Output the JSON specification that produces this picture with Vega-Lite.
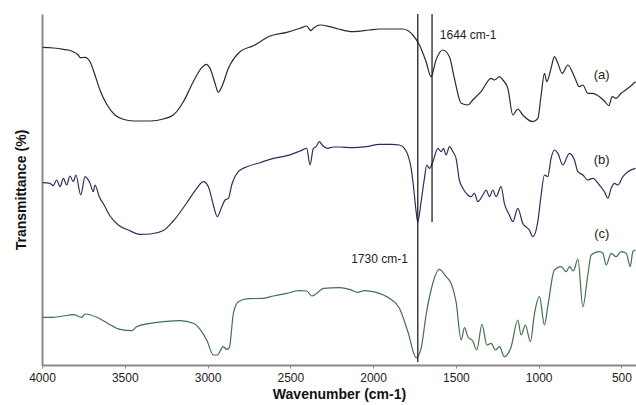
{
  "$schema": "https://vega.github.io/schema/vega-lite/v6.json",
  "width": 594,
  "height": 351,
  "autosize": "none",
  "padding": {"left": 42, "top": 14, "right": 0, "bottom": 40},
  "background": "white",
  "config": {
    "view": {"stroke": null},
    "font": "Liberation Sans"
  },
  "datasets": {
    "spectra": [
      {"wn": 3996, "t": 317.7, "s": "a"}, {"wn": 3932, "t": 317, "s": "a"}, {"wn": 3871, "t": 315.7, "s": "a"},
      {"wn": 3821, "t": 314, "s": "a"}, {"wn": 3781, "t": 310, "s": "a"}, {"wn": 3770, "t": 307.3, "s": "a"},
      {"wn": 3740, "t": 307.7, "s": "a"}, {"wn": 3710, "t": 303.3, "s": "a"}, {"wn": 3680, "t": 290, "s": "a"},
      {"wn": 3650, "t": 275, "s": "a"}, {"wn": 3609, "t": 260.7, "s": "a"}, {"wn": 3559, "t": 250, "s": "a"},
      {"wn": 3509, "t": 245.7, "s": "a"}, {"wn": 3448, "t": 244, "s": "a"}, {"wn": 3347, "t": 244, "s": "a"},
      {"wn": 3267, "t": 246, "s": "a"}, {"wn": 3207, "t": 250, "s": "a"}, {"wn": 3146, "t": 263.3, "s": "a"},
      {"wn": 3086, "t": 283.3, "s": "a"}, {"wn": 3035, "t": 297.3, "s": "a"}, {"wn": 3009, "t": 300.7, "s": "a"},
      {"wn": 2985, "t": 296.7, "s": "a"}, {"wn": 2955, "t": 281.7, "s": "a"}, {"wn": 2935, "t": 272.7, "s": "a"},
      {"wn": 2914, "t": 278.3, "s": "a"}, {"wn": 2874, "t": 296.7, "s": "a"}, {"wn": 2804, "t": 313.3, "s": "a"},
      {"wn": 2723, "t": 319.3, "s": "a"}, {"wn": 2622, "t": 329, "s": "a"}, {"wn": 2521, "t": 332.7, "s": "a"},
      {"wn": 2441, "t": 336.7, "s": "a"}, {"wn": 2401, "t": 339, "s": "a"}, {"wn": 2376, "t": 334.3, "s": "a"},
      {"wn": 2361, "t": 336.7, "s": "a"}, {"wn": 2320, "t": 340, "s": "a"}, {"wn": 2260, "t": 338.3, "s": "a"},
      {"wn": 2210, "t": 336, "s": "a"}, {"wn": 2123, "t": 333.3, "s": "a"}, {"wn": 2022, "t": 335, "s": "a"},
      {"wn": 1962, "t": 336, "s": "a"}, {"wn": 1821, "t": 336, "s": "a"}, {"wn": 1760, "t": 330, "s": "a"},
      {"wn": 1720, "t": 320, "s": "a"}, {"wn": 1680, "t": 303.3, "s": "a"}, {"wn": 1650, "t": 288.3, "s": "a"},
      {"wn": 1620, "t": 305, "s": "a"}, {"wn": 1579, "t": 315, "s": "a"}, {"wn": 1539, "t": 308.3, "s": "a"},
      {"wn": 1509, "t": 286.7, "s": "a"}, {"wn": 1468, "t": 261.7, "s": "a"}, {"wn": 1428, "t": 260, "s": "a"},
      {"wn": 1398, "t": 265, "s": "a"}, {"wn": 1348, "t": 273.3, "s": "a"}, {"wn": 1287, "t": 286.7, "s": "a"},
      {"wn": 1267, "t": 285, "s": "a"}, {"wn": 1237, "t": 288.3, "s": "a"}, {"wn": 1216, "t": 285, "s": "a"},
      {"wn": 1186, "t": 276.7, "s": "a"}, {"wn": 1156, "t": 250, "s": "a"}, {"wn": 1126, "t": 256, "s": "a"},
      {"wn": 1096, "t": 250, "s": "a"}, {"wn": 1035, "t": 243.3, "s": "a"}, {"wn": 1005, "t": 246.7, "s": "a"},
      {"wn": 985, "t": 270, "s": "a"}, {"wn": 965, "t": 291.7, "s": "a"}, {"wn": 951, "t": 283.3, "s": "a"},
      {"wn": 925, "t": 296.7, "s": "a"}, {"wn": 905, "t": 308.3, "s": "a"}, {"wn": 884, "t": 301.7, "s": "a"},
      {"wn": 858, "t": 291.7, "s": "a"}, {"wn": 824, "t": 300, "s": "a"}, {"wn": 784, "t": 288.3, "s": "a"},
      {"wn": 754, "t": 278.3, "s": "a"}, {"wn": 733, "t": 280, "s": "a"}, {"wn": 703, "t": 271.7, "s": "a"},
      {"wn": 673, "t": 271.7, "s": "a"}, {"wn": 633, "t": 268.3, "s": "a"}, {"wn": 603, "t": 264, "s": "a"},
      {"wn": 576, "t": 259.3, "s": "a"}, {"wn": 556, "t": 268.3, "s": "a"}, {"wn": 532, "t": 266.7, "s": "a"},
      {"wn": 502, "t": 271.7, "s": "a"}, {"wn": 461, "t": 276.7, "s": "a"}, {"wn": 415, "t": 283.3, "s": "a"},

      {"wn": 3996, "t": 182.3, "s": "b"}, {"wn": 3952, "t": 181.7, "s": "b"}, {"wn": 3932, "t": 179.3, "s": "b"},
      {"wn": 3911, "t": 185, "s": "b"}, {"wn": 3891, "t": 178.3, "s": "b"}, {"wn": 3871, "t": 186.7, "s": "b"},
      {"wn": 3851, "t": 180, "s": "b"}, {"wn": 3831, "t": 189, "s": "b"}, {"wn": 3811, "t": 183.3, "s": "b"},
      {"wn": 3795, "t": 190, "s": "b"}, {"wn": 3766, "t": 170, "s": "b"}, {"wn": 3740, "t": 188.3, "s": "b"},
      {"wn": 3710, "t": 181.7, "s": "b"}, {"wn": 3690, "t": 173.3, "s": "b"}, {"wn": 3680, "t": 180, "s": "b"},
      {"wn": 3654, "t": 168.3, "s": "b"}, {"wn": 3625, "t": 160, "s": "b"}, {"wn": 3589, "t": 149, "s": "b"},
      {"wn": 3539, "t": 140, "s": "b"}, {"wn": 3479, "t": 135, "s": "b"}, {"wn": 3408, "t": 130.7, "s": "b"},
      {"wn": 3347, "t": 131, "s": "b"}, {"wn": 3267, "t": 134.5, "s": "b"}, {"wn": 3207, "t": 144, "s": "b"},
      {"wn": 3126, "t": 162, "s": "b"}, {"wn": 3065, "t": 176.7, "s": "b"}, {"wn": 3025, "t": 183.3, "s": "b"},
      {"wn": 2995, "t": 178.3, "s": "b"}, {"wn": 2965, "t": 160, "s": "b"}, {"wn": 2941, "t": 148.3, "s": "b"},
      {"wn": 2914, "t": 158.3, "s": "b"}, {"wn": 2894, "t": 165, "s": "b"}, {"wn": 2874, "t": 166.7, "s": "b"},
      {"wn": 2854, "t": 180, "s": "b"}, {"wn": 2814, "t": 193.3, "s": "b"}, {"wn": 2763, "t": 198.3, "s": "b"},
      {"wn": 2683, "t": 202.3, "s": "b"}, {"wn": 2602, "t": 206.7, "s": "b"}, {"wn": 2521, "t": 209.3, "s": "b"},
      {"wn": 2441, "t": 214, "s": "b"}, {"wn": 2401, "t": 216.7, "s": "b"}, {"wn": 2381, "t": 200, "s": "b"},
      {"wn": 2361, "t": 216.7, "s": "b"}, {"wn": 2344, "t": 218.3, "s": "b"}, {"wn": 2325, "t": 223.3, "s": "b"},
      {"wn": 2304, "t": 219.3, "s": "b"}, {"wn": 2276, "t": 216.7, "s": "b"}, {"wn": 2240, "t": 218, "s": "b"},
      {"wn": 2204, "t": 218, "s": "b"}, {"wn": 2123, "t": 217.3, "s": "b"}, {"wn": 2042, "t": 218.3, "s": "b"},
      {"wn": 1962, "t": 220.7, "s": "b"}, {"wn": 1891, "t": 220.7, "s": "b"}, {"wn": 1841, "t": 220, "s": "b"},
      {"wn": 1811, "t": 216.7, "s": "b"}, {"wn": 1790, "t": 210, "s": "b"}, {"wn": 1770, "t": 196.7, "s": "b"},
      {"wn": 1757, "t": 180, "s": "b"}, {"wn": 1740, "t": 153.3, "s": "b"}, {"wn": 1730, "t": 143, "s": "b"},
      {"wn": 1710, "t": 163.3, "s": "b"}, {"wn": 1690, "t": 186.7, "s": "b"}, {"wn": 1676, "t": 200, "s": "b"},
      {"wn": 1660, "t": 196.7, "s": "b"}, {"wn": 1639, "t": 203.3, "s": "b"}, {"wn": 1609, "t": 216.7, "s": "b"},
      {"wn": 1589, "t": 213.3, "s": "b"}, {"wn": 1575, "t": 216.7, "s": "b"}, {"wn": 1559, "t": 210, "s": "b"},
      {"wn": 1539, "t": 218.3, "s": "b"}, {"wn": 1518, "t": 213.3, "s": "b"}, {"wn": 1499, "t": 206.7, "s": "b"},
      {"wn": 1479, "t": 185, "s": "b"}, {"wn": 1458, "t": 176.7, "s": "b"}, {"wn": 1428, "t": 170, "s": "b"},
      {"wn": 1408, "t": 168.3, "s": "b"}, {"wn": 1388, "t": 171.7, "s": "b"}, {"wn": 1367, "t": 163.3, "s": "b"},
      {"wn": 1337, "t": 170, "s": "b"}, {"wn": 1317, "t": 175, "s": "b"}, {"wn": 1297, "t": 168.3, "s": "b"},
      {"wn": 1277, "t": 175, "s": "b"}, {"wn": 1257, "t": 168.3, "s": "b"}, {"wn": 1227, "t": 178.3, "s": "b"},
      {"wn": 1207, "t": 161.7, "s": "b"}, {"wn": 1177, "t": 150, "s": "b"}, {"wn": 1156, "t": 143.3, "s": "b"},
      {"wn": 1126, "t": 156.7, "s": "b"}, {"wn": 1096, "t": 141.7, "s": "b"}, {"wn": 1056, "t": 135, "s": "b"},
      {"wn": 1035, "t": 128.3, "s": "b"}, {"wn": 1005, "t": 143.3, "s": "b"}, {"wn": 985, "t": 170, "s": "b"},
      {"wn": 965, "t": 190, "s": "b"}, {"wn": 945, "t": 188.3, "s": "b"}, {"wn": 925, "t": 206.7, "s": "b"},
      {"wn": 905, "t": 215, "s": "b"}, {"wn": 884, "t": 211.7, "s": "b"}, {"wn": 854, "t": 200, "s": "b"},
      {"wn": 814, "t": 211.7, "s": "b"}, {"wn": 784, "t": 205, "s": "b"}, {"wn": 763, "t": 193.3, "s": "b"},
      {"wn": 733, "t": 190, "s": "b"}, {"wn": 703, "t": 185, "s": "b"}, {"wn": 673, "t": 186.7, "s": "b"},
      {"wn": 633, "t": 180, "s": "b"}, {"wn": 603, "t": 173.3, "s": "b"}, {"wn": 582, "t": 166.7, "s": "b"},
      {"wn": 562, "t": 176.7, "s": "b"}, {"wn": 542, "t": 181.7, "s": "b"}, {"wn": 522, "t": 180, "s": "b"},
      {"wn": 491, "t": 188.3, "s": "b"}, {"wn": 461, "t": 193.3, "s": "b"}, {"wn": 415, "t": 196.7, "s": "b"},

      {"wn": 3996, "t": 47.7, "s": "c"}, {"wn": 3932, "t": 47.7, "s": "c"}, {"wn": 3871, "t": 49, "s": "c"},
      {"wn": 3811, "t": 50.3, "s": "c"}, {"wn": 3760, "t": 47.7, "s": "c"}, {"wn": 3740, "t": 51, "s": "c"},
      {"wn": 3669, "t": 47.7, "s": "c"}, {"wn": 3609, "t": 42.3, "s": "c"}, {"wn": 3529, "t": 35.7, "s": "c"},
      {"wn": 3458, "t": 34.3, "s": "c"}, {"wn": 3428, "t": 38.3, "s": "c"}, {"wn": 3347, "t": 41.7, "s": "c"},
      {"wn": 3247, "t": 43.7, "s": "c"}, {"wn": 3166, "t": 44.3, "s": "c"}, {"wn": 3086, "t": 41.7, "s": "c"},
      {"wn": 3045, "t": 35.7, "s": "c"}, {"wn": 3005, "t": 25, "s": "c"}, {"wn": 2965, "t": 10, "s": "c"},
      {"wn": 2941, "t": 10, "s": "c"}, {"wn": 2905, "t": 18.3, "s": "c"}, {"wn": 2884, "t": 15.7, "s": "c"},
      {"wn": 2868, "t": 17.7, "s": "c"}, {"wn": 2844, "t": 51.7, "s": "c"}, {"wn": 2814, "t": 63.3, "s": "c"},
      {"wn": 2754, "t": 66.3, "s": "c"}, {"wn": 2663, "t": 66.7, "s": "c"}, {"wn": 2602, "t": 69, "s": "c"},
      {"wn": 2521, "t": 71.7, "s": "c"}, {"wn": 2451, "t": 74.3, "s": "c"}, {"wn": 2401, "t": 74, "s": "c"},
      {"wn": 2370, "t": 69, "s": "c"}, {"wn": 2340, "t": 71.7, "s": "c"}, {"wn": 2300, "t": 76.7, "s": "c"},
      {"wn": 2204, "t": 77.3, "s": "c"}, {"wn": 2143, "t": 75.7, "s": "c"}, {"wn": 2093, "t": 72.7, "s": "c"},
      {"wn": 2053, "t": 74.3, "s": "c"}, {"wn": 1982, "t": 72.7, "s": "c"}, {"wn": 1902, "t": 66.7, "s": "c"},
      {"wn": 1841, "t": 56.7, "s": "c"}, {"wn": 1790, "t": 33.3, "s": "c"}, {"wn": 1740, "t": 7.3, "s": "c"},
      {"wn": 1710, "t": 16.7, "s": "c"}, {"wn": 1680, "t": 50, "s": "c"}, {"wn": 1650, "t": 75, "s": "c"},
      {"wn": 1600, "t": 95.7, "s": "c"}, {"wn": 1559, "t": 88.3, "s": "c"}, {"wn": 1529, "t": 81.7, "s": "c"},
      {"wn": 1499, "t": 63.3, "s": "c"}, {"wn": 1468, "t": 25, "s": "c"}, {"wn": 1448, "t": 37.3, "s": "c"},
      {"wn": 1428, "t": 28.3, "s": "c"}, {"wn": 1398, "t": 24, "s": "c"}, {"wn": 1374, "t": 15, "s": "c"},
      {"wn": 1342, "t": 40.7, "s": "c"}, {"wn": 1313, "t": 20, "s": "c"}, {"wn": 1287, "t": 21.7, "s": "c"},
      {"wn": 1261, "t": 15, "s": "c"}, {"wn": 1237, "t": 18.3, "s": "c"}, {"wn": 1207, "t": 8.3, "s": "c"},
      {"wn": 1166, "t": 18.3, "s": "c"}, {"wn": 1126, "t": 45, "s": "c"}, {"wn": 1106, "t": 30, "s": "c"},
      {"wn": 1080, "t": 40, "s": "c"}, {"wn": 1050, "t": 23.3, "s": "c"}, {"wn": 1025, "t": 51.7, "s": "c"},
      {"wn": 995, "t": 68.3, "s": "c"}, {"wn": 965, "t": 40, "s": "c"}, {"wn": 945, "t": 58.3, "s": "c"},
      {"wn": 905, "t": 95, "s": "c"}, {"wn": 864, "t": 98.3, "s": "c"}, {"wn": 834, "t": 93.3, "s": "c"},
      {"wn": 814, "t": 98.3, "s": "c"}, {"wn": 790, "t": 94, "s": "c"}, {"wn": 763, "t": 106, "s": "c"},
      {"wn": 733, "t": 58.3, "s": "c"}, {"wn": 703, "t": 90, "s": "c"}, {"wn": 683, "t": 110, "s": "c"},
      {"wn": 633, "t": 113.3, "s": "c"}, {"wn": 612, "t": 111.7, "s": "c"}, {"wn": 592, "t": 100, "s": "c"},
      {"wn": 562, "t": 111.7, "s": "c"}, {"wn": 532, "t": 108.3, "s": "c"}, {"wn": 502, "t": 113.3, "s": "c"},
      {"wn": 471, "t": 111.7, "s": "c"}, {"wn": 447, "t": 98.3, "s": "c"}, {"wn": 431, "t": 113.3, "s": "c"},
      {"wn": 415, "t": 115, "s": "c"}
    ],
    "markers": [
      {"wn": 1730, "lo": 3, "hi": 351},
      {"wn": 1644, "lo": 143, "hi": 351}
    ],
    "tags": [
      {"wn": 619, "t": 290, "label": "(a)"},
      {"wn": 619, "t": 205, "label": "(b)"},
      {"wn": 619, "t": 131.5, "label": "(c)"}
    ]
  },
  "encoding": {
    "x": {
      "field": "wn",
      "type": "quantitative",
      "scale": {"domain": [4000, 412], "nice": false, "zero": false},
      "axis": {
        "title": "Wavenumber (cm-1)",
        "titleFontSize": 14,
        "titleFontWeight": "bold",
        "titleColor": "#111",
        "titlePadding": 4,
        "values": [4000, 3500, 3000, 2500, 2000, 1500, 1000, 500],
        "format": "d",
        "labelFontSize": 12,
        "labelColor": "#222",
        "labelPadding": 4,
        "labelFlush": false,
        "grid": false,
        "domainColor": "#8a8a8a",
        "domainWidth": 2,
        "tickColor": "#8a8a8a",
        "tickSize": 3
      }
    },
    "y": {
      "field": "t",
      "type": "quantitative",
      "scale": {"domain": [0, 351], "nice": false, "zero": false},
      "axis": {
        "title": "Transmittance (%)",
        "titleFontSize": 14,
        "titleFontWeight": "bold",
        "titleColor": "#111",
        "titlePadding": 14,
        "labels": false,
        "ticks": false,
        "grid": false,
        "domainColor": "#8a8a8a",
        "domainWidth": 2
      }
    }
  },
  "layer": [
    {
      "mark": {"type": "rule", "color": "#222", "strokeWidth": 2},
      "encoding": {"y": {"datum": 351}, "x": null}
    },
    {
      "data": {"name": "spectra"},
      "mark": {"type": "line", "strokeWidth": 1.2, "interpolate": "monotone"},
      "encoding": {
        "color": {
          "field": "s",
          "type": "nominal",
          "scale": {"domain": ["a", "b", "c"], "range": ["#2a2a2a", "#2e2e5c", "#42704a"]},
          "legend": null
        },
        "detail": {"field": "s"}
      }
    },
    {
      "data": {"name": "markers"},
      "mark": {"type": "rule", "color": "#111", "strokeWidth": 1.2},
      "encoding": {
        "y": {"field": "lo", "type": "quantitative"},
        "y2": {"field": "hi"}
      }
    },
    {
      "data": {"values": [{"wn": 1597, "t": 330.5, "label": "1644 cm-1"}]},
      "mark": {"type": "text", "fontSize": 12, "color": "#222", "baseline": "middle", "align": "left"},
      "encoding": {"text": {"field": "label"}}
    },
    {
      "data": {"values": [{"wn": 1790, "t": 106, "label": "1730 cm-1"}]},
      "mark": {"type": "text", "fontSize": 12, "color": "#222", "baseline": "middle", "align": "right"},
      "encoding": {"text": {"field": "label"}}
    },
    {
      "data": {"name": "tags"},
      "mark": {"type": "text", "fontSize": 13, "color": "#222", "baseline": "middle", "align": "center"},
      "encoding": {
        "text": {"field": "label"}
      }
    }
  ]
}
